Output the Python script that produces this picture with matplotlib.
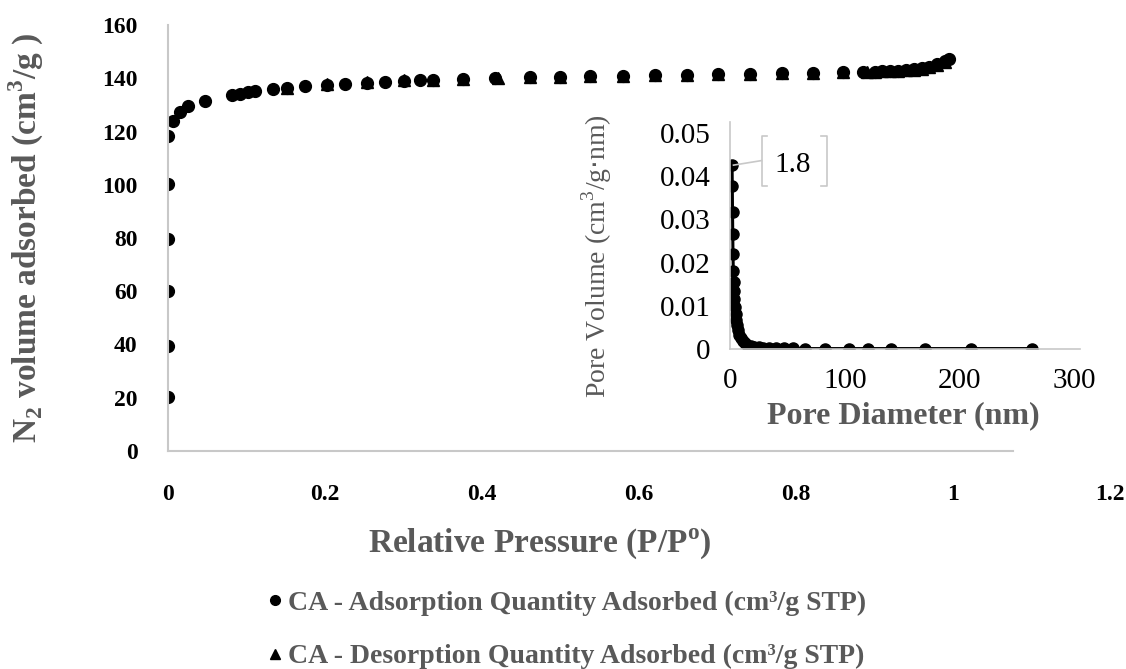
import matplotlib
matplotlib.use("Agg")
import matplotlib.pyplot as plt
from matplotlib.lines import Line2D

plt.rcParams['font.family'] = ['Liberation Serif', 'DejaVu Serif']

# isotherm - adsorption branch (P/Po, cm3/g STP)
ads_p = [0, 0, 0, 0, 0, 0, 0.006, 0.015, 0.026, 0.047, 0.081, 0.092, 0.102, 0.111,
         0.134, 0.151, 0.175, 0.203, 0.226, 0.253, 0.276, 0.300, 0.321, 0.338, 0.376,
         0.417, 0.461, 0.499, 0.538, 0.580, 0.620, 0.661, 0.701, 0.741, 0.782, 0.822,
         0.860, 0.885, 0.900, 0.910, 0.920, 0.930, 0.940, 0.950, 0.960, 0.970, 0.980,
         0.990, 0.995]
ads_q = [20.2, 39.6, 60.2, 79.6, 100.2, 118.4, 124.0, 127.5, 129.7, 131.6, 133.6, 134.2,
         134.8, 135.2, 135.8, 136.2, 137.0, 137.5, 137.9, 138.3, 138.6, 139.0, 139.2,
         139.4, 139.7, 140.0, 140.3, 140.5, 140.7, 140.9, 141.1, 141.3, 141.5, 141.7,
         141.9, 142.1, 142.3, 142.4, 142.5, 142.6, 142.7, 142.9, 143.1, 143.4, 143.8,
         144.4, 145.3, 146.5, 147.3]

# isotherm - desorption branch
des_p = [0.990, 0.980, 0.970, 0.960, 0.950, 0.940, 0.930, 0.920, 0.910, 0.900, 0.890,
         0.860, 0.822, 0.782, 0.741, 0.701, 0.661, 0.620, 0.580, 0.538, 0.499, 0.461,
         0.420, 0.376, 0.338, 0.300, 0.253, 0.203, 0.151]
des_q = [146.0, 145.0, 144.2, 143.6, 143.2, 143.0, 142.8, 142.7, 142.6, 142.5, 142.4,
         142.3, 142.1, 141.9, 141.7, 141.5, 141.3, 141.1, 140.9, 140.7, 140.5, 140.3,
         140.1, 139.8, 139.5, 139.2, 138.5, 137.7, 136.3]

# pore size distribution (inset)
pore_d = [1.8, 2.0, 2.2, 2.4, 2.6, 2.9, 3.2, 3.5, 3.9, 4.3, 4.8, 5.4, 6.1, 7.0, 8.0,
          9.5, 11, 13, 15, 18, 21, 25, 29, 34, 40, 47, 55, 65, 83, 104, 120, 140, 170,
          210, 263]
pore_v = [0.0425, 0.0376, 0.0316, 0.0265, 0.0220, 0.0180, 0.0155, 0.0135, 0.0115,
          0.0098, 0.0082, 0.0068, 0.0055, 0.0043, 0.0033, 0.0025, 0.0018, 0.0013,
          0.0009, 0.0006, 0.0005, 0.0004, 0.0003, 0.0003, 0.0002, 0.0002, 0.0002,
          0.0001, 0.0001, 0.0001, 0.0001, 0.0001, 0.0001, 0.0001, 0.0001]

W, H = 1126, 669
fig = plt.figure(figsize=(W / 100, H / 100), dpi=100)

gray_txt = '#595959'
spine_c = '#c8c8c8'

# main isotherm axes
ax = fig.add_axes([168 / W, 1 - 451 / H, (1110 - 168) / W, (451 - 25) / H])
ax.plot(ads_p, ads_q, 'o', color='black', ms=8.5, ls='none')
ax.plot(des_p, des_q, '^', color='black', ms=8.5, ls='none')
ax.set_xlim(0, 1.2)
ax.set_ylim(0, 160)
ax.set_xticks([0, 0.2, 0.4, 0.6, 0.8, 1, 1.2])
ax.set_xticklabels(['0', '0.2', '0.4', '0.6', '0.8', '1', '1.2'])
ax.set_yticks(range(0, 161, 20))
for s in ['top', 'right']:
    ax.spines[s].set_visible(False)
for s in ['left', 'bottom']:
    ax.spines[s].set_color(spine_c)
    ax.spines[s].set_linewidth(1.5)
ax.spines['bottom'].set_bounds(0, 1.076)
ax.tick_params(length=0, labelsize=17)
ax.tick_params(axis='y', pad=22)
ax.tick_params(axis='x', pad=24)
for t in ax.get_xticklabels() + ax.get_yticklabels():
    t.set_fontweight('bold')
ax.set_xlabel('Relative Pressure (P/P$^{\\mathregular{o}}$)', fontsize=24,
              fontweight='bold', color=gray_txt)
ax.xaxis.set_label_coords(0.395, -0.175)
ax.set_ylabel('N$_\\mathregular{2}$ volume adsorbed (cm$^\\mathregular{3}$/g )',
              fontsize=24, fontweight='bold', color=gray_txt)
ax.yaxis.set_label_coords(-0.13, 0.5)

# inset: pore size distribution
ins = fig.add_axes([730 / W, 1 - 349 / H, 350 / W, 227 / H])
ins.plot(pore_d, pore_v, '-o', color='black', ms=8, lw=2.2)
ins.set_xlim(0, 305)
ins.set_ylim(0, 0.0525)
ins.set_xticks([0, 100, 200, 300])
ins.set_yticks([0, 0.01, 0.02, 0.03, 0.04, 0.05])
ins.set_yticklabels(['0', '0.01', '0.02', '0.03', '0.04', '0.05'])
ins.patch.set_alpha(0)
for s in ['top', 'right']:
    ins.spines[s].set_visible(False)
for s in ['left', 'bottom']:
    ins.spines[s].set_color(spine_c)
    ins.spines[s].set_linewidth(1.2)
ins.tick_params(length=0, labelsize=21, pad=14)
ins.set_xlabel('Pore Diameter (nm)', fontsize=23, fontweight='bold', color=gray_txt)
ins.xaxis.set_label_coords(0.494, -0.23)
ins.set_ylabel('Pore Volume (cm$^\\mathregular{3}$/g$\\cdot$nm)', fontsize=20,
               color=gray_txt)
ins.yaxis.set_label_coords(-0.33, 0.41)

# data callout for the peak
ins.text(0.18, 0.81, '1.8', transform=ins.transAxes, fontsize=21,
         ha='center', va='center')
for xb, d in [(0.09, 0.015), (0.276, -0.015)]:
    ins.add_line(Line2D([xb + d, xb, xb, xb + d], [0.94, 0.94, 0.72, 0.72],
                        transform=ins.transAxes, color=spine_c, lw=1.2))
ins.add_line(Line2D([0.01, 0.09], [0.81, 0.83], transform=ins.transAxes,
                    color=spine_c, lw=1.2))

# legend
handles = [Line2D([], [], marker='o', color='black', ls='none', ms=7),
           Line2D([], [], marker='^', color='black', ls='none', ms=7)]
labels = ['CA - Adsorption Quantity Adsorbed (cm\u00b3/g STP)',
          'CA - Desorption Quantity Adsorbed (cm\u00b3/g STP)']
leg = fig.legend(handles, labels, loc='center', bbox_to_anchor=(565 / W, 1 - 630 / H),
                 frameon=False, handletextpad=0.1, handlelength=0.8,
                 labelspacing=1.0, prop={'weight': 'bold', 'size': 20})
for t in leg.get_texts():
    t.set_color(gray_txt)

fig.savefig('out.png', dpi=100)
